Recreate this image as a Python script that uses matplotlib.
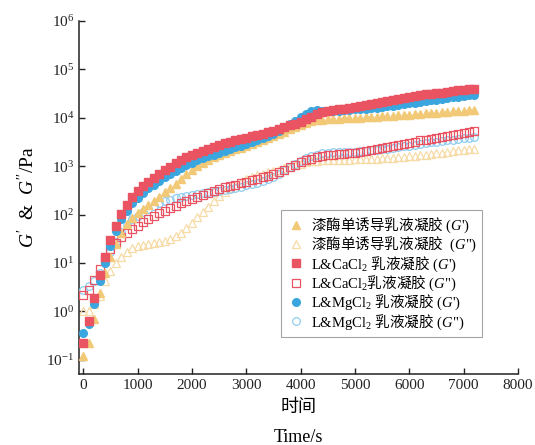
import numpy as np
import matplotlib
matplotlib.use("Agg")
import matplotlib.pyplot as plt

plt.rcParams['font.family'] = ['Liberation Serif', 'Noto Sans CJK SC']
plt.rcParams['mathtext.fontset'] = 'custom'
plt.rcParams['mathtext.rm'] = 'Liberation Serif'
plt.rcParams['mathtext.it'] = 'Liberation Serif:italic'
# CJK inside mathtext strings goes through \mathsf
plt.rcParams['mathtext.sf'] = 'Noto Sans CJK SC'

# sampling times (s), one point every 100 s
time_s = np.arange(0, 7300, 100)

# log10 of modulus (Pa)
lac_g1 = [-0.92, -0.65, -0.15, 0.38, 0.80, 1.13, 1.40, 1.62, 1.80, 1.93,
          2.03, 2.12, 2.20, 2.28, 2.37, 2.46, 2.55, 2.64, 2.74, 2.84,
          2.93, 3.00, 3.06, 3.13, 3.18, 3.23, 3.27, 3.31, 3.35, 3.38,
          3.42, 3.46, 3.50, 3.54, 3.58, 3.62, 3.66, 3.71, 3.76, 3.81,
          3.86, 3.90, 3.93, 3.95, 3.96, 3.97, 3.97, 3.98, 3.99, 3.99,
          4.00, 4.00, 4.01, 4.01, 4.02, 4.03, 4.03, 4.04, 4.05, 4.05,
          4.06, 4.07, 4.08, 4.09, 4.10, 4.10, 4.11, 4.12, 4.13, 4.14,
          4.14, 4.15, 4.16]
lac_g2 = [0.00, 0.00, 0.15, 0.32, 0.63, 0.83, 1.00, 1.13, 1.23, 1.30,
          1.35, 1.38, 1.40, 1.41, 1.43, 1.45, 1.50, 1.55, 1.62, 1.72,
          1.82, 1.94, 2.05, 2.16, 2.28, 2.38, 2.47, 2.55, 2.62, 2.68,
          2.73, 2.77, 2.81, 2.84, 2.87, 2.90, 2.93, 2.96, 2.99, 3.02,
          3.05, 3.08, 3.10, 3.11, 3.12, 3.12, 3.13, 3.13, 3.13, 3.13,
          3.14, 3.14, 3.14, 3.15, 3.15, 3.16, 3.16, 3.17, 3.18, 3.19,
          3.20, 3.21, 3.22, 3.24, 3.25, 3.27, 3.28, 3.30, 3.31, 3.33,
          3.34, 3.35, 3.36]
ca_g1 = [-0.65, -0.20, 0.28, 0.75, 1.13, 1.47, 1.77, 2.02, 2.20, 2.36,
         2.48, 2.58, 2.67, 2.76, 2.84, 2.92, 2.99, 3.06, 3.12, 3.18,
         3.23, 3.28, 3.32, 3.36, 3.40, 3.44, 3.47, 3.50, 3.53, 3.56,
         3.59, 3.62, 3.64, 3.67, 3.70, 3.73, 3.76, 3.80, 3.84, 3.88,
         3.92, 3.97, 4.02, 4.07, 4.11, 4.14, 4.16, 4.17, 4.18, 4.20,
         4.22, 4.24, 4.26, 4.28, 4.30, 4.32, 4.34, 4.36, 4.38, 4.40,
         4.42, 4.44, 4.46, 4.48, 4.49, 4.51, 4.52, 4.54, 4.55, 4.57,
         4.58, 4.59, 4.60]
ca_g2 = [0.33, 0.45, 0.64, 0.87, 1.09, 1.28, 1.42, 1.53, 1.62, 1.70,
         1.77, 1.84, 1.91, 1.97, 2.03, 2.08, 2.13, 2.18, 2.23, 2.28,
         2.33, 2.37, 2.41, 2.45, 2.49, 2.53, 2.56, 2.59, 2.62, 2.65,
         2.68, 2.71, 2.74, 2.77, 2.80, 2.84, 2.88, 2.93, 2.98, 3.03,
         3.08, 3.12, 3.15, 3.18, 3.21, 3.23, 3.24, 3.25, 3.26, 3.27,
         3.28, 3.30, 3.32, 3.34, 3.35, 3.37, 3.39, 3.41, 3.43, 3.45,
         3.48, 3.50, 3.53, 3.55, 3.57, 3.59, 3.61, 3.63, 3.65, 3.67,
         3.69, 3.70, 3.72]
mg_g1 = [-0.45, -0.27, 0.15, 0.62, 1.00, 1.36, 1.66, 1.90, 2.08, 2.23,
         2.35, 2.45, 2.54, 2.62, 2.70, 2.77, 2.84, 2.90, 2.96, 3.02,
         3.07, 3.12, 3.16, 3.20, 3.24, 3.28, 3.32, 3.35, 3.39, 3.42,
         3.46, 3.50, 3.54, 3.58, 3.62, 3.66, 3.72, 3.80, 3.87, 3.94,
         4.01, 4.08, 4.14, 4.16, 4.14, 4.13, 4.13, 4.14, 4.15, 4.16,
         4.17, 4.18, 4.19, 4.20, 4.21, 4.23, 4.24, 4.25, 4.27, 4.28,
         4.30, 4.31, 4.33, 4.34, 4.36, 4.37, 4.39, 4.40, 4.42, 4.43,
         4.44, 4.46, 4.47]
mg_g2 = [0.45, 0.52, 0.63, 0.80, 1.00, 1.22, 1.44, 1.63, 1.78, 1.90,
         1.98, 2.05, 2.11, 2.17, 2.23, 2.28, 2.31, 2.34, 2.36, 2.38,
         2.40, 2.42, 2.44, 2.46, 2.47, 2.49, 2.51, 2.53, 2.55, 2.57,
         2.60, 2.63, 2.66, 2.69, 2.73, 2.78, 2.84, 2.91, 2.98, 3.05,
         3.11, 3.16, 3.20, 3.24, 3.27, 3.28, 3.29, 3.29, 3.29, 3.30,
         3.30, 3.31, 3.32, 3.33, 3.34, 3.35, 3.36, 3.38, 3.39, 3.41,
         3.42, 3.44, 3.45, 3.47, 3.49, 3.50, 3.52, 3.53, 3.55, 3.56,
         3.58, 3.59, 3.60]

labels = [r"$\mathsf{漆酶单诱导乳液凝胶}$ ($G$')",
          r'$\mathsf{漆酶单诱导乳液凝胶}$  ($G$")',
          r"L&CaCl$_2$ $\mathsf{乳液凝胶}$ ($G$')",
          r'L&CaCl$_2\mathsf{乳液凝胶}$ ($G$")',
          r"L&MgCl$_2$ $\mathsf{乳液凝胶}$ ($G$')",
          r'L&MgCl$_2$ $\mathsf{乳液凝胶}$ ($G$")']

YELLOW = '#f2c977'
YELLOW_LIGHT = '#f6dba6'
RED = '#ea5361'
BLUE = '#3aa6df'
BLUE_LIGHT = '#8fcdf0'
MS = 5.5

fig = plt.figure(figsize=(5.35, 4.45), dpi=100)
ax = fig.add_axes([0.148, 0.160, 0.820, 0.793])

h_lac2, = ax.plot(time_s, 10 ** np.array(lac_g2), ls='none', marker='^', ms=MS + 0.5,
                  mfc='none', mec=YELLOW_LIGHT, mew=0.9, zorder=2)
h_mg2, = ax.plot(time_s, 10 ** np.array(mg_g2), ls='none', marker='o', ms=MS,
                 mfc='none', mec=BLUE_LIGHT, mew=0.9, zorder=3)
h_ca2, = ax.plot(time_s, 10 ** np.array(ca_g2), ls='none', marker='s', ms=MS,
                 mfc='none', mec=RED, mew=0.9, zorder=4)
h_lac1, = ax.plot(time_s, 10 ** np.array(lac_g1), ls='none', marker='^', ms=MS + 0.5,
                  mfc=YELLOW, mec=YELLOW, zorder=5)
h_mg1, = ax.plot(time_s, 10 ** np.array(mg_g1), ls='none', marker='o', ms=MS,
                 mfc=BLUE, mec=BLUE, zorder=6)
h_ca1, = ax.plot(time_s, 10 ** np.array(ca_g1), ls='none', marker='s', ms=MS,
                 mfc=RED, mec=RED, zorder=7)

ax.set_yscale('log')
ax.set_xlim(-75, 8000)
ax.set_ylim(10 ** -1.29, 1e6)
ax.set_xticks(np.arange(0, 8001, 1000))
ax.set_yticks([1e-1, 1e0, 1e1, 1e2, 1e3, 1e4, 1e5, 1e6])
ax.minorticks_off()
ax.tick_params(direction='in', length=4, width=1, labelsize=11, colors='#222222')
for side in ['top', 'right']:
    ax.spines[side].set_visible(False)
for side in ['left', 'bottom']:
    ax.spines[side].set_linewidth(1.1)
    ax.spines[side].set_color('#222222')

ax.set_xlabel('时间\nTime/s', fontsize=13, linespacing=2.0, labelpad=5)
ax.set_ylabel("$G'$  &  $G''$/Pa", fontsize=14, labelpad=6)

leg = ax.legend(handles=[h_lac1, h_lac2, h_ca1, h_ca2, h_mg1, h_mg2], labels=labels,
                loc='lower right', bbox_to_anchor=(0.919, 0.105), borderaxespad=0,
                fontsize=10.5, frameon=True, fancybox=False, edgecolor='#8c8c8c',
                handletextpad=0.4, handlelength=1.3, labelspacing=0.0,
                borderpad=0.35)
leg.get_frame().set_linewidth(0.8)

fig.savefig('out.png', dpi=100)
